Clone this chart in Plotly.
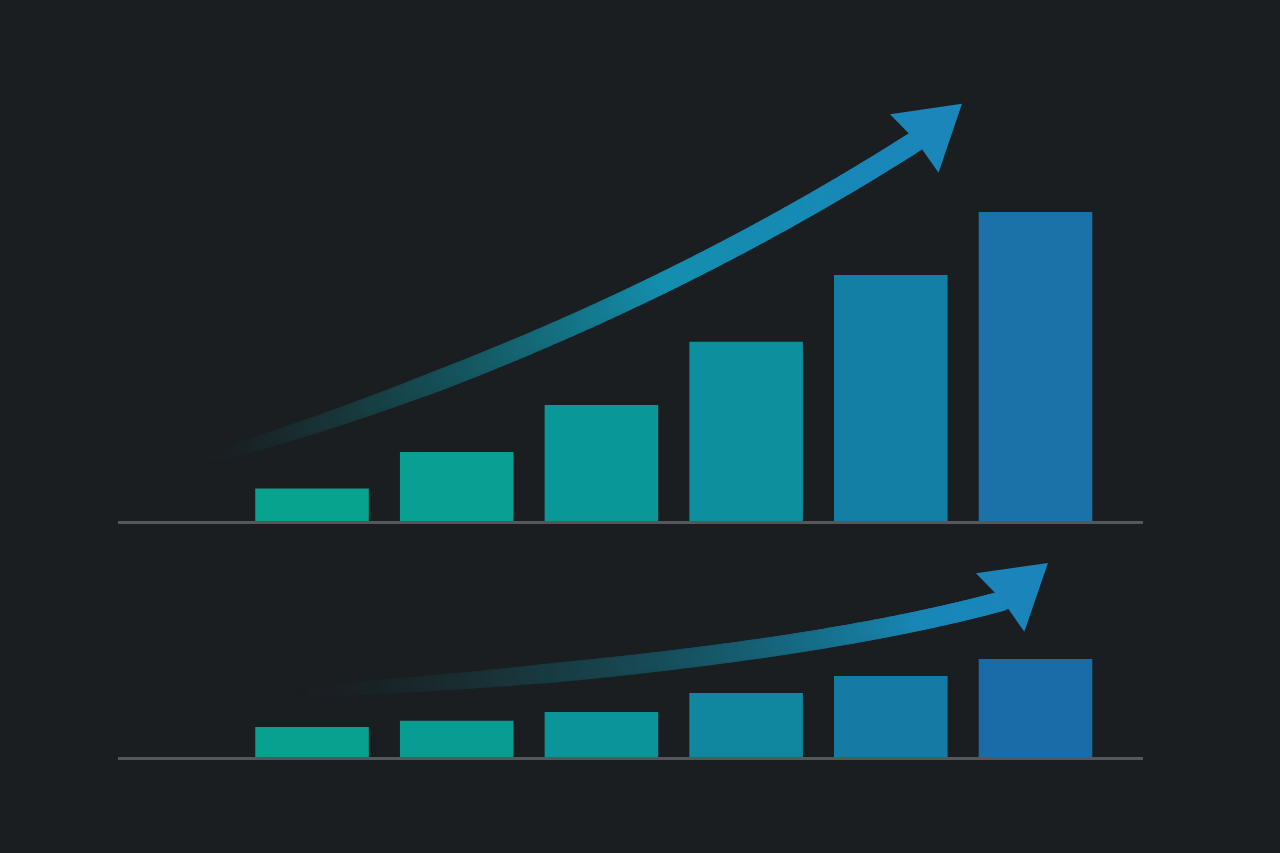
import numpy as np
import plotly.graph_objects as go

# Two rows of growth bars with a curved "trend" arrow over each row

# --- data -------------------------------------------------------------
steps = [0, 1, 2, 3, 4, 5]
top_values = [10.5, 22.3, 37.5, 58, 79.6, 100]
bottom_values = [9.7, 11.7, 14.6, 20.7, 26.2, 31.7]

top_colors = ['#08a38f', '#09a093', '#0a9797', '#0d8f9e', '#137fa5', '#1a72a8']
bottom_colors = ['#08a18f', '#099c93', '#0b9499', '#11879f', '#157ba4', '#1a6ca8']

# arrow curves (quadratic bezier: start, control, end of shaft, then tip), data units
top_arrow = [(-0.705, 20.4), (2.004, 57.9), (4.209, 124.0)]
top_tip = (4.492, 135.0)
bottom_arrow = [(-0.083, 21.0), (3.158, 30.1), (4.768, 50.5)]
bottom_tip = (5.086, 62.8)

# --- layout constants -------------------------------------------------
W, H = 1280, 853
BG = '#1b1e21'
ML, MR = 118, 137
x_range = [-1.341, 5.743]
top_dom = [1 - 521 / H, 1.0]
top_range = [0, 168.6]
bot_dom = [(H - 757) / H, (H - 530) / H]
bot_range = [0, 73.5]

px_per_x = (W - ML - MR) / (x_range[1] - x_range[0])
px_per_y = 521 / top_range[1]


def hex_rgb(h):
    h = h.lstrip('#')
    return np.array([int(h[i:i + 2], 16) for i in (0, 2, 4)], dtype=float)


def blend(c1, c2, t):
    c = c1 + (c2 - c1) * t
    return 'rgb(%d,%d,%d)' % tuple(np.round(c))


bg_rgb = hex_rgb(BG)


def arrow_traces(pts, tip, start_col, end_col, fade_end, fade_pow, head_col, thick, xa, ya):
    p0, p1, p2 = [np.array(p, dtype=float) for p in pts]
    t = np.linspace(0, 1, 400)
    curve = ((1 - t)[:, None] ** 2) * p0 + (2 * (1 - t) * t)[:, None] * p1 + (t[:, None] ** 2) * p2
    c0, c1 = hex_rgb(start_col), hex_rgb(end_col)
    cols = []
    for tt in t:
        base = c0 + (c1 - c0) * tt
        a = min(tt / fade_end, 1.0) ** fade_pow
        cols.append(blend(bg_rgb, base, a))
    sizes = (thick - 7) + 7 * np.clip(t / 0.3, 0, 1)
    shaft = go.Scatter(x=curve[:, 0], y=curve[:, 1], mode='markers', xaxis=xa, yaxis=ya,
                       marker=dict(color=cols, size=sizes, line=dict(width=0)),
                       hoverinfo='skip', showlegend=False, cliponaxis=False)

    # arrowhead built in pixel space around the tip, then back to data units
    tip_px = np.array([tip[0] * px_per_x, -tip[1] * px_per_y])
    end_px = np.array([p2[0] * px_per_x, -p2[1] * px_per_y])
    d = tip_px - end_px
    d = d / np.linalg.norm(d)
    n = np.array([-d[1], d[0]])
    head = [tip_px,
            tip_px - 62 * d - 38 * n,
            tip_px - 59 * d,
            tip_px - 62 * d + 38 * n,
            tip_px]
    hx = [p[0] / px_per_x for p in head]
    hy = [-p[1] / px_per_y for p in head]
    head_tr = go.Scatter(x=hx, y=hy, mode='lines', fill='toself', fillcolor=head_col,
                         line=dict(width=0, color=head_col), xaxis=xa, yaxis=ya,
                         hoverinfo='skip', showlegend=False, cliponaxis=False)
    return [shaft, head_tr]


fig = go.Figure()

# arrows first so bars sit on top where they touch
for tr in arrow_traces(top_arrow, top_tip, '#0b9a98', '#1a87bb', 0.62, 1.25, '#1a86b9', 21, 'x', 'y'):
    fig.add_trace(tr)
for tr in arrow_traces(bottom_arrow, bottom_tip, '#0c9799', '#1b86bc', 0.85, 1.3, '#1b84ba', 20, 'x2', 'y2'):
    fig.add_trace(tr)

fig.add_trace(go.Bar(x=steps, y=top_values, marker=dict(color=top_colors, line=dict(width=0)),
                     width=0.785, xaxis='x', yaxis='y', showlegend=False, hoverinfo='y'))
fig.add_trace(go.Bar(x=steps, y=bottom_values, marker=dict(color=bottom_colors, line=dict(width=0)),
                     width=0.785, xaxis='x2', yaxis='y2', showlegend=False, hoverinfo='y'))

axis_x = dict(range=x_range, showgrid=False, zeroline=False, showticklabels=False, ticks='',
              showline=True, linecolor='#54585c', linewidth=2.5, fixedrange=True)
axis_y = dict(showgrid=False, zeroline=False, showticklabels=False, ticks='', showline=False,
              fixedrange=True)

fig.update_layout(
    width=W, height=H,
    paper_bgcolor=BG, plot_bgcolor=BG,
    margin=dict(l=ML, r=MR, t=0, b=0),
    xaxis=dict(axis_x, anchor='y', layer='below traces'),
    yaxis=dict(axis_y, domain=top_dom, range=top_range),
    xaxis2=dict(axis_x, anchor='y2', layer='below traces'),
    yaxis2=dict(axis_y, domain=bot_dom, range=bot_range),
    bargap=0.2,
)

# drop the page's default body margin so the figure fills the window
page_js = "document.body.style.margin='0';document.body.style.background='%s';" % BG
fig.write_html("out.html", config={'displayModeBar': False}, post_script=page_js)
